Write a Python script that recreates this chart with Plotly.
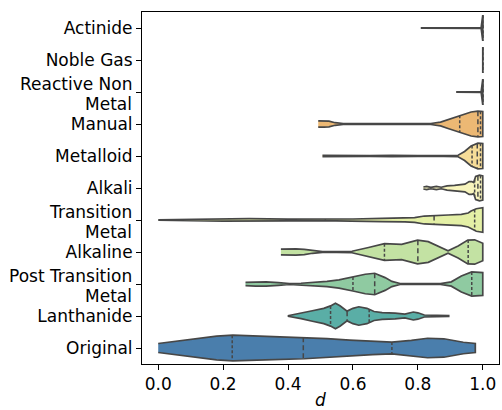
import numpy as np
import plotly.graph_objects as go

# Categories, top to bottom
categories = ["Actinide", "Noble Gas", "Reactive Non Metal", "Manual", "Metalloid",
              "Alkali", "Transition Metal", "Alkaline", "Post Transition Metal",
              "Lanthanide", "Original"]
# Label text per category; two-line names are split into their lines
label_lines = [["Actinide"], ["Noble Gas"], ["Reactive Non", "Metal"], ["Manual"],
               ["Metalloid"], ["Alkali"], ["Transition", "Metal"], ["Alkaline"],
               ["Post Transition", "Metal"], ["Lanthanide"], ["Original"]]

fill_colors = ["#9c9c9c", "#9c9c9c", "#e89a72", "#ecb874", "#f6dc98",
               "#f8f5bd", "#e4f0a6", "#c3e2a3", "#8fcaa1", "#5aaea6", "#4a7eac"]

# Kernel density profiles of d per category (relative density, 1 = widest)
actinide_d = [0.809, 0.995, 1.0]
actinide_w = [0.02, 0.03, 1.0]
noble_gas_d = [1.0]
noble_gas_w = [1.0]
reactive_d = [0.918, 0.995, 1.0]
reactive_w = [0.02, 0.03, 1.0]
manual_d = [0.493, 0.51, 0.526, 0.545, 0.57, 0.65, 0.75, 0.84, 0.87, 0.893, 0.91,
            0.929, 0.95, 0.964, 0.985, 1.0]
manual_w = [0.25, 0.24, 0.22, 0.1, 0.04, 0.03, 0.03, 0.04, 0.15, 0.35, 0.5,
            0.68, 0.83, 0.94, 1.0, 0.98]
metalloid_d = [0.506, 0.55, 0.65, 0.72, 0.76, 0.80, 0.88, 0.924, 0.944, 0.964, 0.985, 1.0]
metalloid_w = [0.05, 0.03, 0.03, 0.05, 0.07, 0.04, 0.03, 0.06, 0.35, 0.78, 1.0, 0.98]
alkali_d = [0.817, 0.827, 0.84, 0.857, 0.872, 0.89, 0.913, 0.93, 0.945, 0.958, 0.966,
            0.972, 0.978, 0.99, 1.0]
alkali_w = [0.08, 0.13, 0.05, 0.13, 0.06, 0.16, 0.2, 0.27, 0.3, 0.5, 0.5,
            0.42, 0.9, 1.0, 0.95]
transition_d = [0.0, 0.1, 0.2, 0.28, 0.4, 0.5, 0.6, 0.69, 0.76, 0.79, 0.82, 0.85,
                0.893, 0.934, 0.955, 0.964, 0.98, 1.0]
transition_w = [0.02, 0.06, 0.09, 0.1, 0.07, 0.05, 0.08, 0.12, 0.15, 0.19, 0.31, 0.36,
                0.39, 0.44, 0.55, 0.7, 0.88, 0.96]
alkaline_d = [0.378, 0.40, 0.424, 0.45, 0.475, 0.506, 0.55, 0.597, 0.648, 0.697, 0.75,
              0.78, 0.799, 0.832, 0.86, 0.893, 0.924, 0.954, 0.975, 0.99, 1.0]
alkaline_w = [0.22, 0.24, 0.24, 0.2, 0.1, 0.03, 0.03, 0.06, 0.35, 0.65, 0.6,
              0.78, 0.93, 0.81, 0.45, 0.09, 0.47, 0.93, 0.95, 0.8, 0.68]
post_transition_d = [0.269, 0.30, 0.332, 0.37, 0.404, 0.44, 0.475, 0.52, 0.557, 0.60,
                     0.638, 0.667, 0.699, 0.72, 0.745, 0.80, 0.87, 0.903, 0.934, 0.966, 1.0]
post_transition_w = [0.12, 0.16, 0.17, 0.1, 0.04, 0.06, 0.12, 0.2, 0.32, 0.55,
                     0.76, 0.84, 0.5, 0.2, 0.04, 0.03, 0.03, 0.17, 0.63, 0.94, 0.89]
lanthanide_d = [0.399, 0.44, 0.475, 0.51, 0.531, 0.546, 0.56, 0.582, 0.60, 0.618, 0.643,
                0.665, 0.69, 0.73, 0.76, 0.786, 0.80, 0.82, 0.86, 0.895]
lanthanide_w = [0.02, 0.2, 0.41, 0.6, 0.79, 1.0, 0.8, 0.38, 0.6, 0.72, 0.6,
                0.35, 0.27, 0.23, 0.15, 0.31, 0.25, 0.08, 0.05, 0.03]
original_d = [0.0, 0.06, 0.13, 0.18, 0.23, 0.33, 0.45, 0.52, 0.59, 0.66, 0.72, 0.78,
              0.83, 0.88, 0.94, 0.977]
original_w = [0.35, 0.55, 0.77, 0.92, 1.0, 0.92, 0.84, 0.74, 0.62, 0.52, 0.46, 0.6,
              0.76, 0.72, 0.45, 0.35]

# Quartiles (Q1, median, Q3) per category
actinide_q = [1.0, 1.0, 1.0]
noble_gas_q = [1.0, 1.0, 1.0]
reactive_q = [1.0, 1.0, 1.0]
manual_q = [0.929, 0.985, 0.993]
metalloid_q = [0.967, 0.983, 0.993]
alkali_q = [0.975, 0.985, 0.993]
transition_q = [0.515, 0.85, 0.975]
alkaline_q = [0.697, 0.80, 0.955]
post_transition_q = [0.60, 0.667, 0.966]
lanthanide_q = [0.531, 0.582, 0.65]
original_q = [0.228, 0.447, 0.72]

profiles = [
    (actinide_d, actinide_w, actinide_q),
    (noble_gas_d, noble_gas_w, noble_gas_q),
    (reactive_d, reactive_w, reactive_q),
    (manual_d, manual_w, manual_q),
    (metalloid_d, metalloid_w, metalloid_q),
    (alkali_d, alkali_w, alkali_q),
    (transition_d, transition_w, transition_q),
    (alkaline_d, alkaline_w, alkaline_q),
    (post_transition_d, post_transition_w, post_transition_q),
    (lanthanide_d, lanthanide_w, lanthanide_q),
    (original_d, original_w, original_q),
]

HALF = 0.4
EDGE = "#474747"
FONT = dict(family="DejaVu Sans", size=17, color="black")

fig = go.Figure()

q_x, q_y, m_x, m_y = [], [], [], []
for i, (d, w, q) in enumerate(profiles):
    d = np.asarray(d, dtype=float)
    w = np.asarray(w, dtype=float)
    xs = np.concatenate([d, d[::-1]])
    ys = np.concatenate([i - HALF * w, (i + HALF * w)[::-1]])
    fig.add_trace(go.Scatter(
        x=xs, y=ys, mode="lines", fill="toself", fillcolor=fill_colors[i],
        line=dict(color=EDGE, width=1.7), hoverinfo="skip", showlegend=False,
    ))
    for k, val in enumerate(q):
        h = HALF * float(np.interp(val, d, w)) if len(d) > 1 else HALF * w[0]
        if k == 1:
            m_x += [val, val, None]
            m_y += [i - h, i + h, None]
        else:
            q_x += [val, val, None]
            q_y += [i - h, i + h, None]

fig.add_trace(go.Scatter(x=q_x, y=q_y, mode="lines", hoverinfo="skip", showlegend=False,
                         line=dict(color=EDGE, width=1.5, dash="3px,2px")))
fig.add_trace(go.Scatter(x=m_x, y=m_y, mode="lines", hoverinfo="skip", showlegend=False,
                         line=dict(color=EDGE, width=1.5, dash="5px,3px")))

# Category labels: single-line names as tick text, two-line names as stacked annotations
tick_text = []
annotations = []
for i, lines in enumerate(label_lines):
    if len(lines) == 1:
        tick_text.append(lines[0])
    else:
        tick_text.append("")
        for line, off in zip(lines, (-0.26, 0.37)):
            annotations.append(dict(
                x=0, xref="paper", xanchor="right", xshift=-8,
                y=i + off, yref="y", yanchor="middle",
                text=line, showarrow=False, font=FONT,
            ))

axis_style = dict(showline=True, mirror=True, linecolor="black", linewidth=1,
                  ticks="outside", ticklen=5, tickwidth=1, tickcolor="black",
                  showgrid=False, zeroline=False, tickfont=FONT)

fig.update_layout(
    width=502, height=410,
    margin=dict(l=142, r=2, t=12, b=41),
    paper_bgcolor="white", plot_bgcolor="white",
    font=FONT,
    annotations=annotations,
    xaxis=dict(range=[-0.05, 1.05], tickvals=[0, 0.2, 0.4, 0.6, 0.8, 1.0],
               ticktext=["0.0", "0.2", "0.4", "0.6", "0.8", "1.0"],
               title=dict(text="<i>d</i>", font=FONT, standoff=2), **axis_style),
    yaxis=dict(range=[10.5, -0.5], tickvals=list(range(len(categories))),
               ticktext=tick_text, **axis_style),
)

fig.write_html("out.html")
